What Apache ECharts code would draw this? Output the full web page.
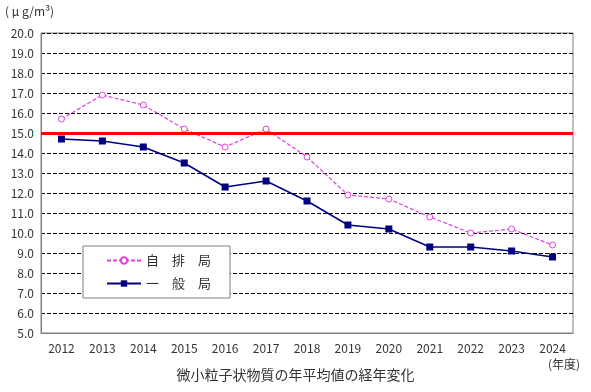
<!DOCTYPE html>
<html><head><meta charset="utf-8">
<script src="https://cdn.jsdelivr.net/npm/echarts@6/dist/echarts.min.js"></script>
<style>html,body{margin:0;padding:0;background:#fff}#c{width:591px;height:392px}</style>
</head><body><div id="c"></div>
<script>
const years = ['2012','2013','2014','2015','2016','2017','2018','2019','2020','2021','2022','2023','2024'];
const jihaikyoku = [15.7,16.9,16.4,15.2,14.3,15.2,13.8,11.9,11.7,10.8,10.0,10.2,9.4];
const ippankyoku = [14.7,14.6,14.3,13.5,12.3,12.6,11.6,10.4,10.2,9.3,9.3,9.1,8.8];
const standardValue = 15.0;
const seriesNames = ['自　排　局','一　般　局'];

const chart = echarts.init(document.getElementById('c'));
const font = '"Noto Sans CJK JP", "DejaVu Sans", sans-serif';
chart.setOption({
  animation:false,
  textStyle:{fontFamily:font},
  grid:{left:41,right:18,top:33,bottom:59,show:true,borderColor:'#808080',borderWidth:1,backgroundColor:'transparent'},
  graphic:[
    {type:'text',left:5,top:5,style:{text:'( μ g/m³)',font:'12px '+font,fill:'#333'}},
    {type:'text',left:548,top:358,style:{text:'(年度)',font:'12px '+font,fill:'#333'}},
    {type:'text',left:'center',top:368,style:{text:'微小粒子状物質の年平均値の経年変化',font:'14px '+font,fill:'#333'}}
  ],
  legend:{
    orient:'vertical',left:83,top:246,
    padding:[8,19,8,23],itemGap:10,itemWidth:34,itemHeight:8,
    borderColor:'#808080',borderWidth:1,backgroundColor:'#fff',
    textStyle:{fontSize:13,color:'#333',fontFamily:font},
    data:seriesNames
  },
  xAxis:{
    type:'category',data:years,boundaryGap:true,
    axisLine:{lineStyle:{color:'#808080'}},
    axisTick:{inside:true,length:5,lineStyle:{color:'#808080'}},
    axisLabel:{color:'#333',fontSize:12,margin:9},
    splitLine:{show:false}
  },
  yAxis:{
    type:'value',min:5,max:20,interval:1,
    axisLine:{show:true,lineStyle:{color:'#808080'}},
    axisTick:{show:false},
    axisLabel:{color:'#333',fontSize:12,margin:7,formatter:v=>v.toFixed(1)},
    splitLine:{show:true,lineStyle:{color:'#000',type:[4,2],width:1}}
  },
  series:[
    {name:seriesNames[0],type:'line',data:jihaikyoku,symbol:'circle',symbolSize:6,
     itemStyle:{color:'#fff',borderColor:'#e040e0',borderWidth:1},
     lineStyle:{color:'#e040e0',type:[4,2],width:1.2},
     markLine:{silent:true,symbol:'none',label:{show:false},
       lineStyle:{color:'#ff0000',width:3,type:'solid'},data:[{yAxis:standardValue}]},
     z:3},
    {name:seriesNames[1],type:'line',data:ippankyoku,symbol:'rect',symbolSize:7,
     itemStyle:{color:'#000080'},lineStyle:{color:'#000080',width:1.5},z:4}
  ]
});
</script></body></html>
